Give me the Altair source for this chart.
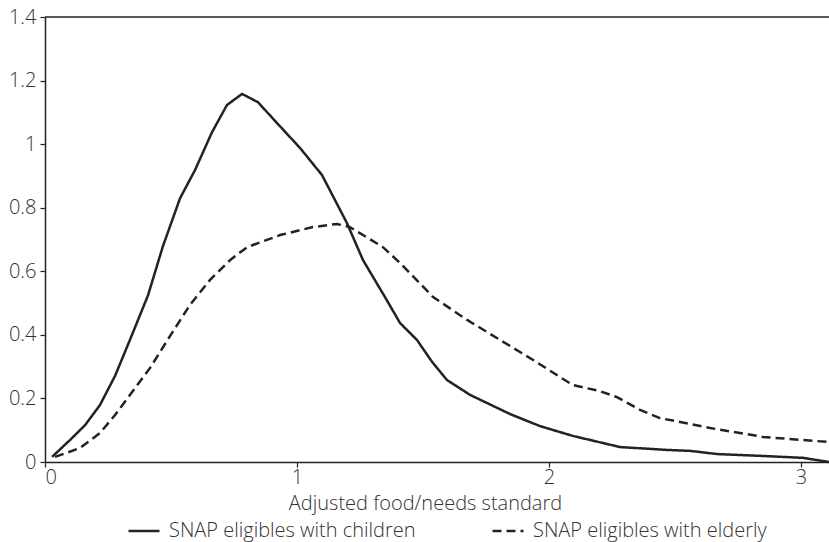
import altair as alt
import pandas as pd

# Density of the adjusted food/needs standard for two groups of SNAP eligibles
children_x = [0.028, 0.099, 0.159, 0.218, 0.278, 0.337, 0.409, 0.468, 0.536, 0.595,
              0.663, 0.722, 0.782, 0.845, 0.921, 1.012, 1.099, 1.198, 1.262, 1.349,
              1.409, 1.476, 1.536, 1.595, 1.687, 1.845, 1.964, 2.095, 2.282, 2.468,
              2.560, 2.667, 2.849, 3.008, 3.111]
children_y = [0.016, 0.069, 0.116, 0.179, 0.271, 0.384, 0.525, 0.679, 0.830, 0.918,
              1.038, 1.123, 1.158, 1.132, 1.066, 0.988, 0.903, 0.752, 0.635, 0.519,
              0.437, 0.384, 0.315, 0.258, 0.211, 0.151, 0.113, 0.082, 0.047, 0.038,
              0.035, 0.025, 0.019, 0.013, 0.0]

elderly_x = [0.040, 0.139, 0.218, 0.278, 0.337, 0.417, 0.496, 0.575, 0.655, 0.734,
             0.802, 0.933, 1.063, 1.159, 1.210, 1.341, 1.409, 1.540, 1.675, 1.806,
             1.937, 2.044, 2.095, 2.202, 2.270, 2.361, 2.440, 2.520, 2.639, 2.849,
             3.008, 3.111]
elderly_y = [0.016, 0.044, 0.091, 0.148, 0.211, 0.296, 0.396, 0.494, 0.573, 0.635,
             0.676, 0.714, 0.739, 0.749, 0.739, 0.676, 0.626, 0.519, 0.447, 0.384,
             0.321, 0.267, 0.242, 0.223, 0.204, 0.164, 0.138, 0.126, 0.107, 0.079,
             0.069, 0.063]

series_names = ["SNAP eligibles with children", "SNAP eligibles with elderly"]
x_ticks = [0, 1, 2, 3]
y_ticks = [0, 0.2, 0.4, 0.6, 0.8, 1.0, 1.2, 1.4]
x_max = 3.111
y_max = 1.4

df = pd.concat([
    pd.DataFrame({"x": children_x, "y": children_y, "group": series_names[0], "order": range(len(children_x))}),
    pd.DataFrame({"x": elderly_x, "y": elderly_y, "group": series_names[1], "order": range(len(elderly_x))}),
])

FONT = "Open Sans"
WEIGHT = 300
FS = 20
INK = "#222222"
TEXT = "#333333"

x_scale = alt.Scale(domain=[0, x_max], nice=False, zero=False)
y_scale = alt.Scale(domain=[0, y_max], nice=False)

lines = alt.Chart(df).mark_line(strokeWidth=2.5, color=INK).encode(
    x=alt.X("x:Q", scale=x_scale,
            axis=alt.Axis(values=x_ticks, format="~g", title="Adjusted food/needs standard",
                          titleX=380, titlePadding=6)),
    y=alt.Y("y:Q", scale=y_scale,
            axis=alt.Axis(values=y_ticks, format="~g", title=None, labelPadding=4)),
    order="order:Q",
    strokeDash=alt.StrokeDash(
        "group:N",
        scale=alt.Scale(domain=series_names, range=[[1, 0], [9, 5]]),
        legend=alt.Legend(
            title=None, orient="none", direction="horizontal",
            legendX=82, legendY=497,
            symbolType="stroke", symbolSize=961, symbolStrokeWidth=2.5,
            symbolStrokeColor=INK, columnPadding=71, labelOffset=8,
            labelFontSize=FS, labelFont=FONT, labelFontWeight=WEIGHT,
            labelColor=TEXT, labelLimit=400,
        ),
    ),
)

# Top border of the plot frame
top = alt.Chart(pd.DataFrame({"y": [y_max]})).mark_rule(color=INK, strokeWidth=1.5).encode(
    y=alt.Y("y:Q", scale=y_scale)
)

chart = alt.layer(lines, top).properties(
    width=784, height=445,
    autosize=alt.AutoSizeParams(type="none"),
    padding={"left": 45, "top": 17, "right": 0, "bottom": 80},
).configure_view(stroke=None).configure_axis(
    grid=False, domainColor=INK, domainWidth=1.5, tickColor=INK, tickWidth=1.2,
    tickSize=5, labelFont=FONT, labelFontSize=FS, labelFontWeight=WEIGHT,
    labelColor=TEXT, labelPadding=0,
    titleFont=FONT, titleFontSize=FS, titleFontWeight=WEIGHT, titleColor=TEXT,
)

chart.save("out.html", embed_options={"renderer": "svg", "actions": False})
